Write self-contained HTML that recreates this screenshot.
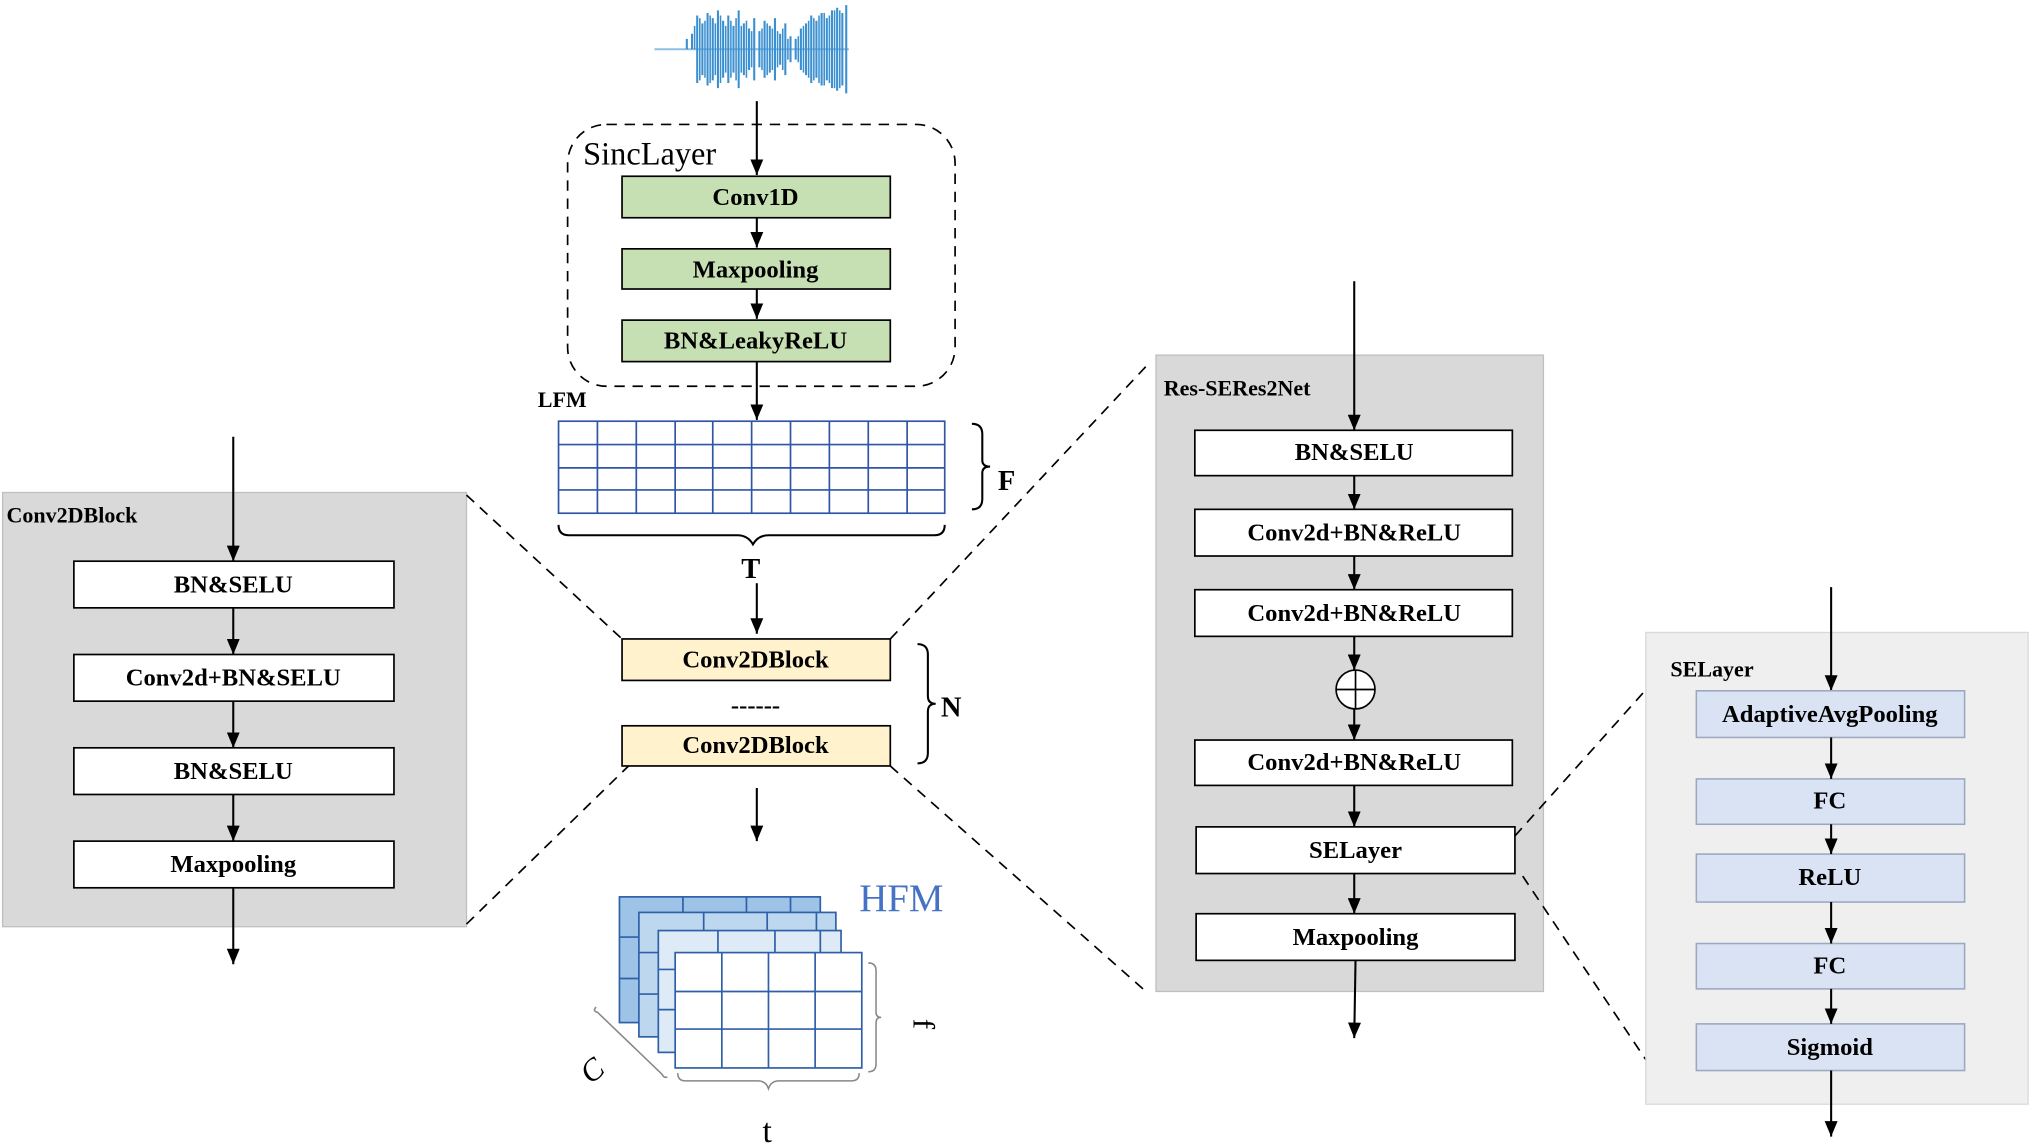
<!DOCTYPE html>
<html><head><style>html,body{margin:0;padding:0;background:#fff}svg{display:block}</style></head>
<body>
<svg xmlns="http://www.w3.org/2000/svg" width="2032" height="1147" viewBox="0 0 1568 885" preserveAspectRatio="none">
<defs>
<marker id="a" markerWidth="12" markerHeight="10" refX="12" refY="5" orient="auto" markerUnits="userSpaceOnUse" viewBox="0 0 12 10"><path d="M0,0 L12,5 L0,10 z" fill="#000"/></marker>
</defs>
<style>
.b{font-family:"Liberation Serif",serif;font-weight:bold;font-size:19px;text-anchor:middle}
.l{stroke:#000;stroke-width:1.6;fill:none}
.d{stroke:#000;stroke-width:1.3;stroke-dasharray:8,6;fill:none}
</style>
<!-- waveform -->
<g stroke="#3a8fd0" stroke-width="1.6">
<line x1="505" y1="38" x2="655" y2="38" stroke="#8cc0e6"/>
<path d="M530,38 L530,30 M534,38 L534,26 M538,12 L538,64 M542,18 L542,58 M546,10 L546,66 M550,14 L550,62 M554,8 L554,68 M558,16 L558,60 M562,12 L562,64 M566,20 L566,56 M570,8 L570,68 M574,18 L574,58 M578,22 L578,54 M582,14 L582,62 M586,24 L586,52 M590,16 L590,60 M594,20 L594,56 M598,14 L598,62 M602,26 L602,50 M606,18 L606,58 M610,28 L610,48 M614,30 L614,46 M618,22 L618,54 M622,18 L622,58 M626,12 L626,64 M630,16 L630,60 M634,10 L634,66 M638,14 L638,62 M642,8 L642,68 M646,6 L646,70 M650,10 L650,66 M653,4 L653,72"/>
<path d="M536,38 L536,20 M540,14 L540,62 M544,16 L544,60 M548,12 L548,64 M552,18 L552,58 M556,12 L556,64 M560,20 L560,56 M564,16 L564,60 M568,14 L568,62 M572,20 L572,56 M576,16 L576,60 M580,24 L580,52 M588,22 L588,54 M592,18 L592,58 M596,22 L596,54 M600,24 L600,52 M604,22 L604,54 M608,30 L608,46 M616,28 L616,48 M620,20 L620,56 M624,16 L624,60 M628,14 L628,62 M632,12 L632,64 M636,10 L636,66 M640,12 L640,64 M644,8 L644,68 M648,8 L648,68" stroke-width="1.2"/>
</g>
<!-- SincLayer -->
<rect x="438" y="96" width="299" height="202" rx="30" class="d"/>
<text x="450" y="127" font-family="Liberation Serif,serif" font-size="25">SincLayer</text>
<line x1="584" y1="78" x2="584" y2="135" class="l" marker-end="url(#a)"/>
<g fill="#c6e0b4" stroke="#000" stroke-width="1.3">
<rect x="480" y="136" width="207" height="32"/><rect x="480" y="192" width="207" height="31"/><rect x="480" y="247" width="207" height="32"/></g>
<text class="b" x="583" y="158">Conv1D</text>
<text class="b" x="583" y="214">Maxpooling</text>
<text class="b" x="583" y="269">BN&amp;LeakyReLU</text>
<line x1="584" y1="168" x2="584" y2="191" class="l" marker-end="url(#a)"/>
<line x1="584" y1="223" x2="584" y2="246" class="l" marker-end="url(#a)"/>
<line x1="584" y1="279" x2="584" y2="324" class="l" marker-end="url(#a)"/>
<text x="415" y="314" font-family="Liberation Serif,serif" font-weight="bold" font-size="17">LFM</text>
<!-- LFM grid -->
<g stroke="#2f55a4" stroke-width="1.3" fill="none">
<rect x="431" y="325" width="298" height="71"/>
<path d="M461,325V396M491,325V396M521,325V396M550,325V396M580,325V396M610,325V396M640,325V396M670,325V396M700,325V396M431,343H729M431,361H729M431,378H729"/>
</g>
<path d="M750,327 q8,0 8,8 v20 q0,5 6,5 q-6,0 -6,5 v20 q0,8 -8,8" class="l" stroke-width="1.3"/>
<text x="770" y="378" font-family="Liberation Serif,serif" font-weight="bold" font-size="22">F</text>
<path d="M431,405 q0,8 8,8 h130 q8,0 12,7 q4,-7 12,-7 h128 q8,0 8,-8" class="l" stroke-width="1.3"/>
<text x="572" y="446" font-family="Liberation Serif,serif" font-weight="bold" font-size="22">T</text>
<line x1="584" y1="450" x2="584" y2="489" class="l" marker-end="url(#a)"/>
<g fill="#fff2cc" stroke="#000" stroke-width="1.3"><rect x="480" y="493" width="207" height="32"/><rect x="480" y="560" width="207" height="31"/></g>
<text class="b" x="583" y="515">Conv2DBlock</text>
<text class="b" x="583" y="581">Conv2DBlock</text>
<text class="b" x="583" y="550">------</text>
<path d="M708,497 q8,0 8,8 v32 q0,6 6,6 q-6,0 -6,6 v32 q0,8 -8,8" class="l" stroke-width="1.3"/>
<text x="726" y="553" font-family="Liberation Serif,serif" font-weight="bold" font-size="22">N</text>
<line x1="584" y1="608" x2="584" y2="649" class="l" marker-end="url(#a)"/>
<!-- HFM -->
<g stroke="#2f5fa8" stroke-width="1.3">
<rect x="478" y="692" width="155" height="97" fill="#9dc3e6"/>
<path d="M478,723H508M478,755H508M527,692V704M576,692V704M610,692V704" fill="none"/>
<rect x="493" y="704" width="152" height="96" fill="#bdd7ee"/>
<path d="M493,735H508M493,767H508M543,704V718M592,704V718M630,704V718" fill="none"/>
<rect x="508" y="718" width="141" height="94" fill="#deebf7"/>
<path d="M508,748H521M508,779H521M554,718V735M598,718V735M633,718V735" fill="none"/>
<rect x="521" y="735" width="144" height="89" fill="#fff"/>
<path d="M557,735V824M593,735V824M629,735V824M521,765H665M521,794H665" fill="none"/>
</g>
<text x="663" y="703" font-family="Liberation Serif,serif" font-size="30" fill="#4472c4">HFM</text>
<g stroke="#888" stroke-width="1.2" fill="none">
<path d="M670,743 q6,0 6,6 v32 q0,4 4,4 q-4,0 -4,4 v32 q0,6 -6,6"/>
<path d="M523,828 q0,6 6,6 h56 q6,0 8,6 q2,-6 8,-6 h56 q6,0 6,-6"/>
<path d="M460,777 q-3,3 1,4 l50,48 q1,3 4,2"/>
</g>
<text x="705" y="790" font-family="Liberation Serif,serif" font-size="24" transform="rotate(90 705 790)" text-anchor="middle">f</text>
<text x="592" y="881" font-family="Liberation Serif,serif" font-size="26" text-anchor="middle">t</text>
<text x="462" y="832" font-family="Liberation Serif,serif" font-style="italic" font-size="24" transform="rotate(-40 462 832)" text-anchor="middle">C</text>
<!-- left panel -->
<rect x="2" y="380" width="358" height="335" fill="#d9d9d9" stroke="#bfbfbf"/>
<text x="5" y="403" font-family="Liberation Serif,serif" font-weight="bold" font-size="17">Conv2DBlock</text>
<line x1="180" y1="337" x2="180" y2="433" class="l" marker-end="url(#a)"/>
<g fill="#fff" stroke="#000" stroke-width="1.3">
<rect x="57" y="433" width="247" height="36"/><rect x="57" y="505" width="247" height="36"/><rect x="57" y="577" width="247" height="36"/><rect x="57" y="649" width="247" height="36"/></g>
<text class="b" x="180" y="457">BN&amp;SELU</text>
<text class="b" x="180" y="529">Conv2d+BN&amp;SELU</text>
<text class="b" x="180" y="601">BN&amp;SELU</text>
<text class="b" x="180" y="673">Maxpooling</text>
<line x1="180" y1="469" x2="180" y2="505" class="l" marker-end="url(#a)"/>
<line x1="180" y1="541" x2="180" y2="577" class="l" marker-end="url(#a)"/>
<line x1="180" y1="613" x2="180" y2="649" class="l" marker-end="url(#a)"/>
<line x1="180" y1="685" x2="180" y2="744" class="l" marker-end="url(#a)"/>
<!-- dashed connectors -->
<line x1="360" y1="382" x2="480" y2="493" class="d"/>
<line x1="360" y1="713" x2="485" y2="591" class="d"/>
<line x1="687" y1="493" x2="885" y2="282" class="d"/>
<line x1="687" y1="591" x2="882" y2="763" class="d"/>
<!-- right panel -->
<rect x="892" y="274" width="299" height="491" fill="#d9d9d9" stroke="#bfbfbf"/>
<text x="898" y="305" font-family="Liberation Serif,serif" font-weight="bold" font-size="17">Res-SERes2Net</text>
<line x1="1045" y1="217" x2="1045" y2="332" class="l" marker-end="url(#a)"/>
<g fill="#fff" stroke="#000" stroke-width="1.3">
<rect x="922" y="332" width="245" height="35"/><rect x="922" y="393" width="245" height="36"/><rect x="922" y="455" width="245" height="36"/><rect x="922" y="571" width="245" height="35"/><rect x="923" y="638" width="246" height="36"/><rect x="923" y="705" width="246" height="36"/>
<circle cx="1046" cy="532" r="15"/></g>
<path d="M1031,532H1061M1046,517V547" stroke="#000" stroke-width="1.3"/>
<text class="b" x="1045" y="355">BN&amp;SELU</text>
<text class="b" x="1045" y="417">Conv2d+BN&amp;ReLU</text>
<text class="b" x="1045" y="479">Conv2d+BN&amp;ReLU</text>
<text class="b" x="1045" y="594">Conv2d+BN&amp;ReLU</text>
<text class="b" x="1046" y="662">SELayer</text>
<text class="b" x="1046" y="729">Maxpooling</text>
<line x1="1045" y1="367" x2="1045" y2="393" class="l" marker-end="url(#a)"/>
<line x1="1045" y1="429" x2="1045" y2="455" class="l" marker-end="url(#a)"/>
<line x1="1045" y1="491" x2="1045" y2="517" class="l" marker-end="url(#a)"/>
<line x1="1045" y1="547" x2="1045" y2="571" class="l" marker-end="url(#a)"/>
<line x1="1045" y1="606" x2="1045" y2="638" class="l" marker-end="url(#a)"/>
<line x1="1045" y1="674" x2="1045" y2="705" class="l" marker-end="url(#a)"/>
<line x1="1046" y1="741" x2="1045" y2="801" class="l" marker-end="url(#a)"/>
<line x1="1169" y1="645" x2="1290" y2="510" class="d"/>
<line x1="1175" y1="676" x2="1285" y2="840" class="d"/>
<!-- SE panel -->
<rect x="1270" y="488" width="295" height="364" fill="#efefef" stroke="#d9d9d9"/>
<text x="1289" y="522" font-family="Liberation Serif,serif" font-weight="bold" font-size="17">SELayer</text>
<line x1="1413" y1="453" x2="1413" y2="533" class="l" marker-end="url(#a)"/>
<g fill="#dae3f3" stroke="#9aa8c0" stroke-width="1.2">
<rect x="1309" y="533" width="207" height="36"/><rect x="1309" y="601" width="207" height="35"/><rect x="1309" y="659" width="207" height="37"/><rect x="1309" y="728" width="207" height="35"/><rect x="1309" y="790" width="207" height="36"/></g>
<text class="b" x="1412" y="557">AdaptiveAvgPooling</text>
<text class="b" x="1412" y="624">FC</text>
<text class="b" x="1412" y="683">ReLU</text>
<text class="b" x="1412" y="751">FC</text>
<text class="b" x="1412" y="814">Sigmoid</text>
<line x1="1413" y1="569" x2="1413" y2="601" class="l" marker-end="url(#a)"/>
<line x1="1413" y1="636" x2="1413" y2="659" class="l" marker-end="url(#a)"/>
<line x1="1413" y1="696" x2="1413" y2="728" class="l" marker-end="url(#a)"/>
<line x1="1413" y1="763" x2="1413" y2="790" class="l" marker-end="url(#a)"/>
<line x1="1413" y1="826" x2="1413" y2="877" class="l" marker-end="url(#a)"/>
</svg>
</body></html>
